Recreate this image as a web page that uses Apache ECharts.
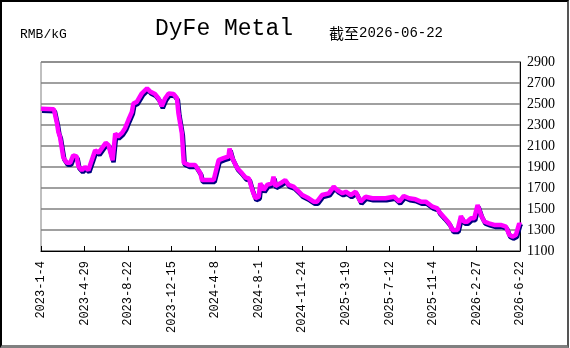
<!DOCTYPE html>
<html>
<head>
<meta charset="utf-8">
<script src="https://cdn.jsdelivr.net/npm/echarts@6/dist/echarts.min.js"></script>
<style>
html,body{margin:0;padding:0;background:#fff;}
#wrap{position:relative;width:570px;height:348px;}
#chart{position:absolute;left:0;top:0;width:570px;height:348px;}
#frame{position:absolute;left:0;top:0;width:565px;height:343px;border-left:2px solid #000;border-top:2px solid #000;border-right:2px solid #555;border-bottom:3px solid #808080;pointer-events:none;}
</style>
</head>
<body>
<div id="wrap"><div id="chart"></div><div id="frame"></div></div>
<script>
const titleText = 'DyFe Metal';
const unitText = 'RMB/kG';
const asOfLabel = '截至';
const asOfDate = '2026-06-22';

const dates = ['2023-01-04','2023-02-07','2023-02-15','2023-02-19','2023-02-23','2023-03-04','2023-03-13','2023-03-22','2023-03-30','2023-04-08',
'2023-04-13','2023-04-22','2023-04-30','2023-05-09','2023-05-18','2023-05-27','2023-06-05','2023-06-14','2023-06-24','2023-07-01',
'2023-07-12','2023-07-19','2023-07-26','2023-08-06','2023-08-14','2023-08-23','2023-09-01','2023-09-05','2023-09-14','2023-09-18',
'2023-09-27','2023-10-11','2023-10-19','2023-11-01','2023-11-10','2023-11-19','2023-11-28','2023-12-07','2023-12-20','2023-12-29',
'2024-01-02','2024-01-11','2024-01-16','2024-01-29','2024-02-15','2024-02-29','2024-03-04','2024-04-04','2024-04-17','2024-04-30',
'2024-05-13','2024-05-16','2024-05-23','2024-06-05','2024-06-18','2024-06-27','2024-07-06','2024-07-15','2024-07-23','2024-08-01',
'2024-08-05','2024-08-14','2024-08-23','2024-09-05','2024-09-09','2024-09-14','2024-09-27','2024-10-10','2024-10-19','2024-11-01',
'2024-11-15','2024-11-24','2024-12-11','2024-12-24','2025-01-02','2025-01-15','2025-02-02','2025-02-15','2025-02-24','2025-03-10',
'2025-03-19','2025-04-01','2025-04-14','2025-04-27','2025-05-10','2025-05-28','2025-07-02','2025-07-24','2025-08-07','2025-08-19',
'2025-09-02','2025-09-19','2025-10-03','2025-10-16','2025-11-03','2025-11-16','2025-11-20','2025-12-04','2025-12-17','2025-12-26',
'2026-01-08','2026-01-17','2026-01-25','2026-02-03','2026-02-12','2026-02-21','2026-03-02','2026-03-11','2026-03-20','2026-04-01',
'2026-04-15','2026-05-02','2026-05-16','2026-05-25','2026-06-02','2026-06-11','2026-06-20','2026-06-22'];

const prices = [2455,2450,2320,2230,2190,1990,1940,1940,2010,2000,
1905,1870,1900,1870,1965,2060,2035,2080,2130,2110,
1965,2220,2190,2225,2270,2350,2425,2505,2520,2510,
2600,2650,2620,2595,2555,2480,2555,2600,2595,2555,
2410,2220,1940,1920,1920,1840,1776,1776,1965,1985,
2000,2075,1985,1890,1840,1800,1792,1680,1602,1617,
1745,1681,1729,1745,1808,1719,1745,1776,1729,1713,
1665,1633,1602,1570,1570,1633,1649,1713,1681,1649,
1665,1633,1665,1570,1617,1602,1602,1617,1570,1624,
1602,1592,1570,1570,1522,1506,1475,1420,1364,1300,
1300,1433,1379,1379,1411,1411,1538,1443,1379,1364,
1348,1348,1332,1252,1237,1252,1364,1350];

const xStart = '2023-01-04';
const xEnd = '2026-06-22';
const xTickDays = 115;
const yMin = 1100, yMax = 2900, yStep = 200;

const DAY = 86400000;
const seriesData = dates.map((d, i) => [Date.parse(d), prices[i]]);

const chart = echarts.init(document.getElementById('chart'), null, {renderer: 'canvas'});
chart.setOption({
  animation: false,
  backgroundColor: '#fff',
  grid: {left: 41, right: 50, top: 62, bottom: 97, show: true, borderColor: '#808080', borderWidth: 1},
  graphic: [
    {type: 'text', left: 20, top: 28, style: {text: unitText, font: '13px "Liberation Mono"', fill: '#000'}},
    {type: 'text', left: 155, top: 17, style: {text: titleText, font: '23px "Liberation Mono"', fill: '#000'}},
    {type: 'text', left: 329, top: 26, style: {
      text: '{a|' + asOfLabel + '}{b|' + asOfDate + '}',
      rich: {
        a: {fontFamily: 'Noto Sans CJK SC', fontSize: 15, fill: '#000', color: '#000'},
        b: {fontFamily: 'Liberation Mono', fontSize: 14, fill: '#000', color: '#000'}
      }
    }}
  ],
  xAxis: {
    type: 'value',
    min: Date.parse(xStart),
    max: Date.parse(xEnd),
    interval: xTickDays * DAY,
    splitLine: {show: false},
    axisLine: {show: true, lineStyle: {color: '#000', width: 1}},
    axisTick: {show: true, inside: true, length: 5, lineStyle: {color: '#000'}},
    axisLabel: {
      rotate: 90, margin: 10, color: '#000', fontFamily: 'Liberation Mono', fontSize: 12,
      showMinLabel: true, showMaxLabel: true, hideOverlap: false,
      formatter: v => { const d = new Date(v); return d.getUTCFullYear() + '-' + (d.getUTCMonth() + 1) + '-' + d.getUTCDate(); }
    }
  },
  yAxis: {
    type: 'value',
    position: 'right',
    min: yMin, max: yMax, interval: yStep,
    axisLine: {show: true, lineStyle: {color: '#000', width: 1}},
    axisTick: {show: false},
    splitLine: {show: true, lineStyle: {color: '#808080', width: 1.5}},
    axisLabel: {margin: 7, color: '#000', fontFamily: 'Liberation Serif', fontSize: 14, formatter: v => String(v)}
  },
  series: [{
    type: 'line',
    data: seriesData,
    showSymbol: false,
    symbol: 'none',
    lineStyle: {color: '#ff00ff', width: 4.5, shadowColor: '#000080', shadowOffsetX: 1, shadowOffsetY: 2, shadowBlur: 0},
    z: 5
  }]
});
</script>
</body>
</html>
